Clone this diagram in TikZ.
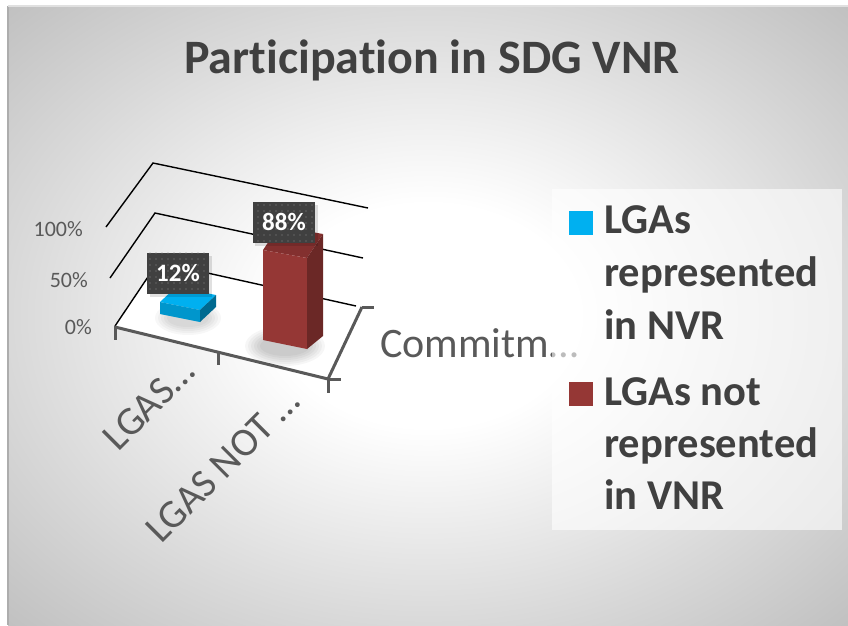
\documentclass[tikz,border=0pt]{standalone}
\usepackage{fontspec}
\setmainfont{Carlito}[Ligatures={NoCommon,NoContextual},Contextuals=NoAlternate]
\usetikzlibrary{patterns.meta}

\definecolor{txtgray}{HTML}{404040}
\definecolor{axgray}{HTML}{595959}
\definecolor{barblue}{HTML}{00B0F0}
\definecolor{barred}{HTML}{953735}

\pgfdeclareradialshading{chartbg}{\pgfpoint{0bp}{0bp}}{color(0bp)=(white); color(9bp)=(white);
	color(25bp)=(black!15); color(36bp)=(black!25); color(50bp)=(black!25)}

\begin{document}
\begin{tikzpicture}[x=1pt,y=-1pt,
		grid/.style={black,line width=1.4pt},
		catax/.style={axgray,line width=3pt},
		ylbl/.style={anchor=east,inner sep=0pt,text=axgray,font=\fontsize{22}{22}\selectfont},
		catlbl/.style={anchor=base east,rotate=45,inner sep=0pt,text=axgray,font=\fontsize{40}{40}\selectfont},
		vallbl/.style={fill=txtgray,text=white,inner sep=0pt,minimum width=62pt,minimum height=41pt,
			font=\fontsize{25}{25}\selectfont\bfseries,
			postaction={pattern={Dots[distance=6pt,radius=0.7pt]},pattern color=white!40!txtgray}},
		legkey/.style={minimum size=24pt,inner sep=0pt,anchor=north west},
		legtxt/.style={anchor=base west,inner sep=0pt,text=txtgray,font=\fontsize{42.5}{42.5}\selectfont\bfseries}]
		\useasboundingbox (0,0) rectangle (848,625);
		\fill[white] (0,0) rectangle (848,625);
		\shade[shading=chartbg] (8,6) rectangle (848,625);
		\draw[black!32,line width=1.2pt] (8,6) -- (8,625);
		\draw[black!12,line width=1.2pt] (8,6) -- (848,6);

		\node[text=txtgray,font=\fontsize{48}{48}\selectfont\bfseries] (title)
			at (432,60) {Participation in SDG VNR};

		% floor and gridlines
		\fill[white] (115,327) -- (158,262) -- (360,306) -- (328,379) -- cycle;
		\draw[grid] (106,227) -- (153,163) -- (368,208);
		\draw[grid] (110,278) -- (155,213) -- (363,258);
		\draw[grid] (115,326) -- (158,262) -- (356,306);

		\node[ylbl] (y100) at (83,229) {100\%};
		\node[ylbl] (y50) at (88,280) {50\%};
		\node[ylbl] (y0) at (92,327) {0\%};

		% shadows
		\foreach \r in {1,...,6}
			\fill[black,opacity=0.035] (285,346) ellipse ({22+3*\r} and {8+2*\r});
		\foreach \r in {1,...,5}
			\fill[black,opacity=0.03] (188,318) ellipse ({18+3*\r} and {7+2*\r});

		% bars
		\fill[barblue] (160,302) -- (200,310) -- (216,295) -- (176,287) -- cycle;
		\fill[barblue!85!black] (160,302) -- (200,310) -- (200,322) -- (160,314) -- cycle;
		\fill[barblue!60!black] (200,310) -- (216,295) -- (216,307) -- (200,322) -- cycle;

		\fill[barred!88!black] (263,250) -- (307,258) -- (323,234) -- (279,226) -- cycle;
		\fill[barred] (263,250) -- (307,258) -- (307,349) -- (263,340) -- cycle;
		\fill[barred!72!black] (307,258) -- (323,234) -- (323,336) -- (307,349) -- cycle;

		% axes
		\draw[catax] (115,327) -- (328,379);
		\draw[catax] (115,326) -- (115,340);
		\draw[catax] (218,352) -- (218,365);
		\draw[catax] (328,379) -- (328,393);
		\draw[catax] (328,379) -- (362,307);
		\draw[catax] (362,307) -- (374,307);
		\draw[catax] (328,379) -- (341,379);

		\node[catlbl] (cat1) at (197,374) {LGAS…};
		\node[catlbl] (cat2) at (302,404) {LGAS NOT …};
		\node[anchor=base west,inner sep=0pt,text=axgray,font=\fontsize{42}{42}\selectfont] (serlbl)
			at (380,357) {Commitm…};

		% data labels
		\fill[black,opacity=0.12] (150,256) rectangle (212,297);
		\node[vallbl] (val12) at (178,273) {12\%};
		\fill[black,opacity=0.12] (255,205) rectangle (318,246);
		\node[vallbl] (val88) at (284,222) {88\%};

		% legend
		\fill[white,opacity=0.6] (552,189) rectangle (842,530);
		\node[legkey,fill=barblue] (key1) at (569,211) {};
		\node[legtxt] (leg1a) at (604,233) {LGAs};
		\node[legtxt] (leg1b) at (604,286) {represented};
		\node[legtxt] (leg1c) at (604,339) {in NVR};
		\node[legkey,fill=barred] (key2) at (569,382) {};
		\node[legtxt] (leg2a) at (604,405) {LGAs not};
		\node[legtxt] (leg2b) at (604,457) {represented};
		\node[legtxt] (leg2c) at (604,509) {in VNR};
	\end{tikzpicture}
\end{document}
